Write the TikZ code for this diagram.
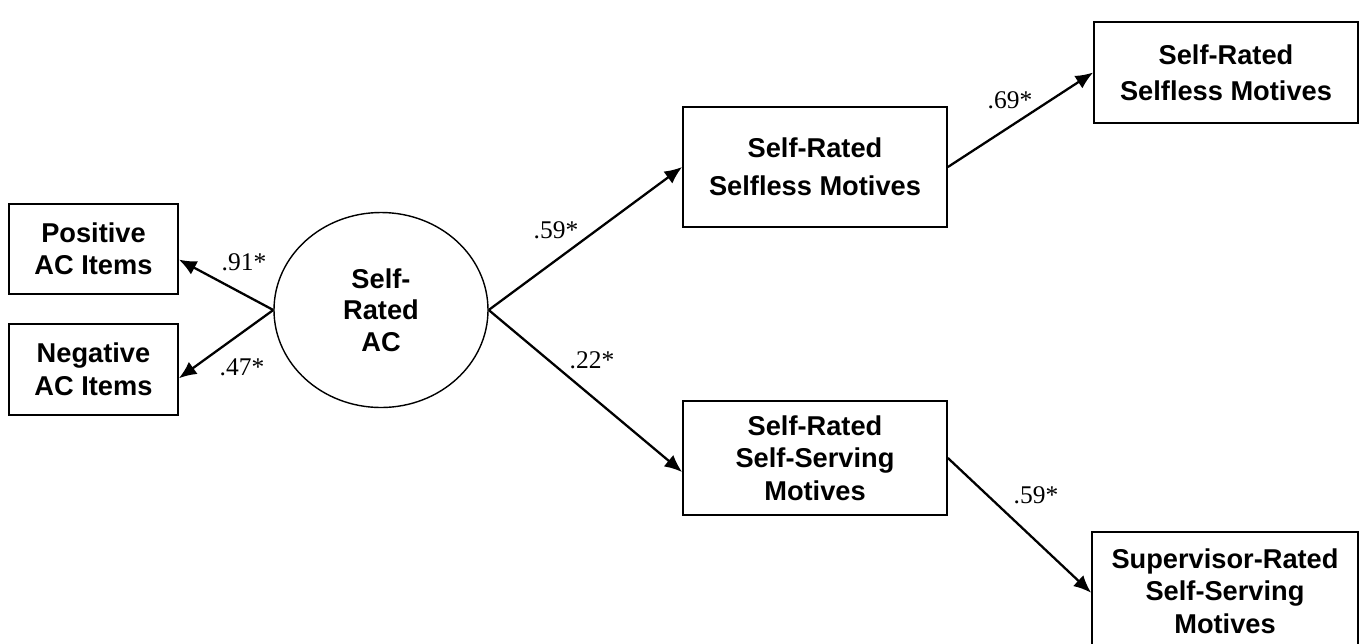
\documentclass[tikz,border=0pt]{standalone}
\usepackage{fontspec}
\setmainfont{Liberation Serif}
\newfontfamily\boxfont{Liberation Sans}
\usetikzlibrary{arrows.meta,shapes.geometric}
\tikzset{>={Latex[length=10pt,width=8.5pt]}}
\tikzset{
  varbox/.style={draw, line width=1pt, align=center, inner sep=0pt,
    font=\boxfont\bfseries\fontsize{15.5}{18.5}\selectfont},
  latent/.style={draw, ellipse, line width=0.8pt, align=center, inner sep=0pt,
    font=\boxfont\bfseries\fontsize{15.5}{18}\selectfont},
  effect/.style={->, line width=1.3pt},
  weight/.style={font=\fontsize{14.5}{17}\selectfont}
}

\begin{document}
\begin{tikzpicture}[x=0.02cm, y=-0.02cm]
  \useasboundingbox (0,0) rectangle (1361,643);
  % indicators
  \node[varbox, minimum width=169*0.02cm, minimum height=90*0.02cm] (pos) at (93.5,249) {Positive\\AC Items};
  \node[varbox, minimum width=169*0.02cm, minimum height=91*0.02cm] (neg) at (93.5,369.5) {Negative\\AC Items};
  % latent factor
  \node[latent, minimum width=214*0.02cm, minimum height=195*0.02cm] (ac) at (381,310) {Self-\\Rated\\AC};
  % motives
  \node[varbox, minimum width=264*0.02cm, minimum height=120*0.02cm] (sless) at (815,167) {Self-Rated\\[3pt]Selfless Motives};
  \node[varbox, minimum width=264*0.02cm, minimum height=101*0.02cm] (slessb) at (1226,72.5) {Self-Rated\\[2pt]Selfless Motives};
  \node[varbox, minimum width=264*0.02cm, minimum height=114*0.02cm] (sserv) at (815,458) {Self-Rated\\Self-Serving\\Motives};
  \node[varbox, minimum width=266*0.02cm, minimum height=118*0.02cm] (super) at (1225,591) {Supervisor-Rated\\Self-Serving\\Motives};
  % paths
  \draw[effect] (ac.west) -- ([yshift=-6pt]pos.east);
  \draw[effect] (ac.west) -- ([yshift=-5pt]neg.east);
  \draw[effect] (ac.east) -- (sless.west);
  \draw[effect] (ac.east) -- ([yshift=-8pt]sserv.west);
  \draw[effect] (sless.east) -- (slessb.west);
  \draw[effect] (sserv.east) -- ([yshift=-1pt]super.west);
  % weights
  \node[weight] (w91) at (244,262) {.91*};
  \node[weight] (w47) at (242,367) {.47*};
  \node[weight] (w59a) at (556,230) {.59*};
  \node[weight] (w22) at (592,360) {.22*};
  \node[weight] (w69) at (1010,100) {.69*};
  \node[weight] (w59b) at (1036,495) {.59*};
\end{tikzpicture}
\end{document}
